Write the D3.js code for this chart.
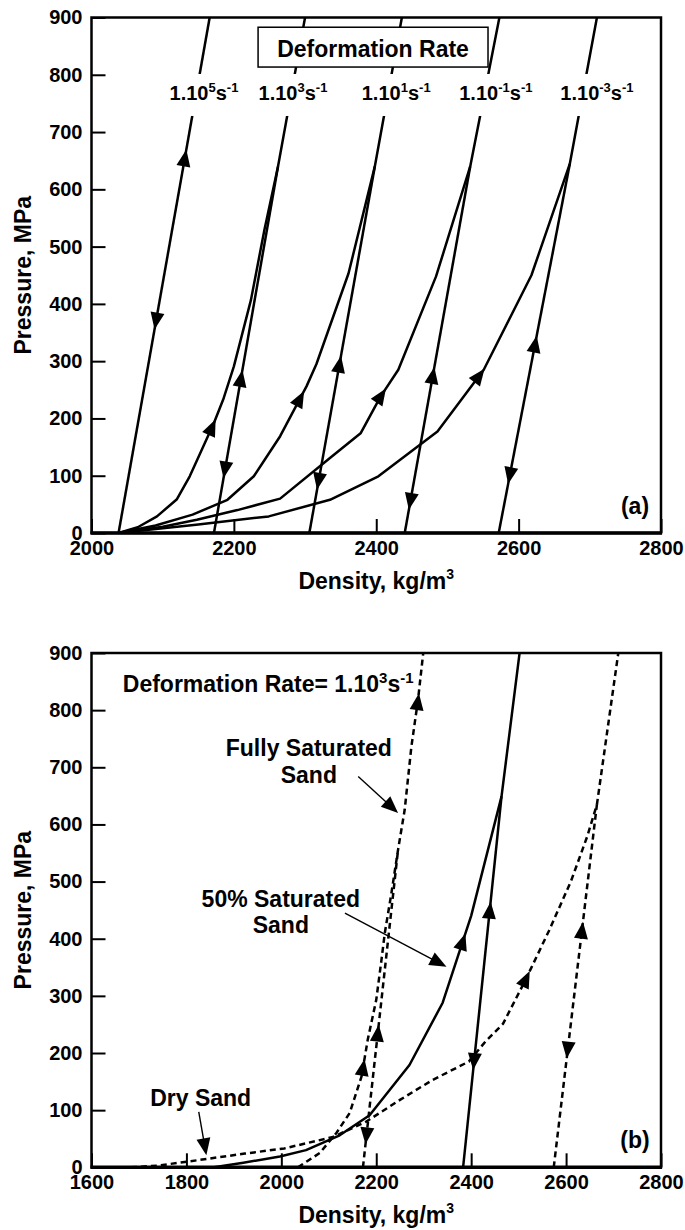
<!DOCTYPE html>
<html><head><meta charset="utf-8">
<script src="https://cdn.jsdelivr.net/npm/d3@7"></script>
<style>
html,body{margin:0;padding:0;background:#fff;}
svg{display:block;font-family:"Liberation Sans",Arial,Helvetica,sans-serif;font-weight:bold;}
</style></head><body>
<svg id="chart" width="685" height="1230"></svg>
<script>
// ---------------- tick labels ----------------
const pressureTicks = [0,100,200,300,400,500,600,700,800,900];
const densityTicksA = [2000,2200,2400,2600,2800];
const densityTicksB = [1600,1800,2000,2200,2400,2600,2800];

// ---------------- panel (a): [density, pressure] ----------------
const rate5 = [[2038,0],[2166,900]];
const rate3Load = [[2038,0],[2065,10],[2092,29],[2120,59],[2138,99],[2157,151],[2172,192],[2185,233],[2200,291],[2212,349],[2224,407],[2243,530],[2262,640],[2300,900]];
const rate3Unload = [[2172,0],[2262,640]];
const rate1Load = [[2038,0],[2090,13],[2142,32],[2191,58],[2228,99],[2265,169],[2302,256],[2316,295],[2361,453],[2398,640],[2436,900]];
const rate1Unload = [[2306,0],[2398,640]];
const rateM1Load = [[2038,0],[2100,11],[2148,23],[2205,40],[2265,60],[2338,134],[2378,174],[2406,238],[2431,285],[2484,448],[2532,640],[2573,900]];
const rateM1Unload = [[2440,0],[2532,640]];
const rateM3Load = [[2038,0],[2150,15],[2249,29],[2335,58],[2403,99],[2486,177],[2551,285],[2618,450],[2672,645],[2710,900]];
const rateM3Unload = [[2572,0],[2672,645]];

const rateExponents = ["5","3","1","-1","-3"];
const rateLabelX = [2158,2283,2428,2568,2710];
const rateLabelP = 756;

// arrows: [series, pressure at arrow centre, direction]
const arrowsA = [
  [rate5,655,"up"],[rate5,370,"down"],
  [rate3Load,185,"up"],[rate3Unload,110,"down"],[rate3Unload,270,"up"],
  [rate1Load,235,"up"],[rate1Unload,90,"down"],[rate1Unload,295,"up"],
  [rateM1Load,240,"up"],[rateM1Unload,55,"down"],[rateM1Unload,275,"up"],
  [rateM3Load,275,"up"],[rateM3Unload,100,"down"],[rateM3Unload,330,"up"]
];

// ---------------- panel (b) ----------------
const dryLoad = [[1683,0],[1740,3],[1803,10],[1923,24],[2006,33],[2109,53],[2179,80],[2250,118],[2319,153],[2395,185],[2430,220],[2467,251],[2514,327],[2564,414],[2610,500],[2645,580],[2665,635],[2710,900]];
const dryUnload = [[2574,0],[2665,635]];
const halfLoad = [[1858,0],[1920,8],[1997,19],[2052,30],[2123,56],[2186,91],[2270,179],[2340,288],[2400,440],[2464,649],[2502,900]];
const halfUnload = [[2383,0],[2464,649]];
const fullLoad = [[2035,0],[2081,25],[2116,60],[2144,95],[2169,159],[2182,223],[2200,293],[2211,363],[2218,410],[2232,480],[2246,556],[2260,626],[2274,736],[2288,818],[2299,900]];
const fullUnload = [[2172,0],[2246,556]];

const arrowsB = [
  [dryLoad,330,"up"],[dryUnload,205,"down"],[dryUnload,415,"up"],
  [halfLoad,395,"up"],[halfUnload,185,"down"],[halfUnload,450,"up"],
  [fullLoad,175,"up"],[fullLoad,815,"up"],[fullUnload,55,"down"],[fullUnload,235,"up"]
];

// annotations panel (b): text lines [text, density, pressure(baseline)]
const annotTexts = [
  ["Fully Saturated",2058,720],["Sand",2058,673],
  ["50% Saturated",1999,456],["Sand",1999,410],
  ["Dry Sand",1830,107]
];
// pointer arrows [fromDensity, fromP, toDensity, toP]
const pointers = [
  [2162,684,2246,620],
  [2134,445,2348,351],
  [1826,97,1842,21]
];

// ---------------- drawing ----------------
const svg = d3.select("#chart");
const FONT_TICK = 20, FONT_LABEL = 23;

function arrowHead(g, p, u, L, hw) {
  const tip = [p[0]+u[0]*L/2, p[1]+u[1]*L/2];
  const b = [p[0]-u[0]*L/2, p[1]-u[1]*L/2];
  const n = [-u[1], u[0]];
  g.append("path")
    .attr("d", `M${tip[0]},${tip[1]}L${b[0]+n[0]*hw},${b[1]+n[1]*hw}L${b[0]-n[0]*hw},${b[1]-n[1]*hw}Z`)
    .attr("fill","#000");
}

function seriesArrow(g, x, y, data, P, dir) {
  for (let i=0;i<data.length-1;i++){
    const a=data[i], b=data[i+1];
    if (P>=a[1] && P<=b[1]) {
      const t=(P-a[1])/(b[1]-a[1]);
      const d=a[0]+t*(b[0]-a[0]);
      const ax=x(a[0]), ay=y(a[1]), bx=x(b[0]), by=y(b[1]);
      let ux=bx-ax, uy=by-ay; const len=Math.hypot(ux,uy); ux/=len; uy/=len;
      if (dir==="down"){ux=-ux;uy=-uy;}
      arrowHead(g,[x(d),y(P)],[ux,uy],17,7);
      return;
    }
  }
}

function rateText(sel, base, sup1, mid, sup2, fs, sfs) {
  sel.append("tspan").text(base);
  sel.append("tspan").attr("font-size",sfs).attr("dy",-fs*0.4).text(sup1);
  sel.append("tspan").attr("font-size",fs).attr("dy",fs*0.4).text(mid);
  if (sup2) sel.append("tspan").attr("font-size",sfs).attr("dy",-fs*0.4).text(sup2);
}

function panel(cfg) {
  const x = d3.scaleLinear().domain(cfg.xDomain).range([91.5,661]);
  const y = d3.scaleLinear().domain([0,900]).range([cfg.bottom,cfg.top]);
  const g = svg.append("g");

  const clipId = "clip"+cfg.id;
  svg.append("clipPath").attr("id",clipId).append("rect")
    .attr("x",x.range()[0]).attr("y",cfg.top).attr("width",x.range()[1]-x.range()[0]).attr("height",cfg.bottom-cfg.top);

  const ya = g.append("g").attr("transform",`translate(${x.range()[0]},0)`)
    .call(d3.axisLeft(y).tickValues(pressureTicks).tickSize(-14).tickPadding(9));
  const xa = g.append("g").attr("transform",`translate(0,${cfg.bottom})`)
    .call(d3.axisBottom(x).tickValues(cfg.xTicks).tickSize(-14).tickPadding(7.5).tickFormat(d3.format("d")));
  [ya,xa].forEach(a=>{
    a.select(".domain").remove();
    a.attr("font-size",FONT_TICK).attr("font-family",null);
    a.selectAll("line").attr("stroke-width",2);
    a.selectAll("text").attr("fill","#000");
  });

  const line = d3.line().x(d=>x(d[0])).y(d=>y(d[1]));
  const cg = g.append("g").attr("clip-path",`url(#${clipId})`);
  cfg.series.forEach(s=>{
    cg.append("path").datum(s.data).attr("d",line)
      .attr("fill","none").attr("stroke","#000")
      .attr("stroke-width", 2.5)
      .attr("stroke-linejoin","round")
      .attr("stroke-dasharray", s.dash?"6,4":null);
  });
  cfg.arrows.forEach(a=>seriesArrow(g,x,y,a[0],a[1],a[2]));

  g.append("rect").attr("x",x.range()[0]).attr("y",cfg.top)
    .attr("width",x.range()[1]-x.range()[0]).attr("height",cfg.bottom-cfg.top)
    .attr("fill","none").attr("stroke","#000").attr("stroke-width",2.5);
  g.append("line").attr("x1",x.range()[0]-1).attr("x2",x.range()[1]+1)
    .attr("y1",cfg.bottom).attr("y2",cfg.bottom).attr("stroke","#000").attr("stroke-width",3.5);

  g.append("text").attr("transform",`translate(31,${(cfg.top+cfg.bottom)/2}) rotate(-90)`)
    .attr("text-anchor","middle").attr("font-size",FONT_LABEL).text("Pressure, MPa");
  const xt = g.append("text").attr("x",(x.range()[0]+x.range()[1])/2).attr("y",cfg.bottom+56)
    .attr("text-anchor","middle").attr("font-size",FONT_LABEL);
  xt.append("tspan").text("Density, kg/m");
  xt.append("tspan").attr("font-size",14).attr("dy",-10).text("3");

  g.append("text").attr("x",635).attr("y",cfg.bottom-19).attr("text-anchor","middle")
    .attr("font-size",FONT_LABEL).text(cfg.tag);
  return {g,x,y};
}

// ---- panel (a)
const A = panel({
  id:"a", top:17.5, bottom:533, xDomain:[2000,2800], xTicks:densityTicksA, tag:"(a)",
  series:[rate5,rate3Load,rate3Unload,rate1Load,rate1Unload,rateM1Load,rateM1Unload,rateM3Load,rateM3Unload].map(d=>({data:d,dash:false})),
  arrows:arrowsA
});
rateExponents.forEach((e,i)=>{
  const t = A.g.append("text").attr("x",A.x(rateLabelX[i])).attr("y",A.y(rateLabelP))
    .attr("text-anchor","middle").attr("font-size",20);
  rateText(t,"1.10",e,"s","-1",20,13);
  const bb = t.node().getBBox();
  A.g.insert("rect", function(){return t.node();})
    .attr("x",bb.x-3).attr("width",bb.width+6)
    .attr("y",A.y(rateLabelP)-26).attr("height",42).attr("fill","#fff");
});
const boxX0 = 2234, boxX1 = 2557, boxP0 = 883, boxP1 = 813.5;
A.g.append("rect").attr("x",A.x(boxX0)).attr("y",A.y(boxP0))
  .attr("width",A.x(boxX1)-A.x(boxX0)).attr("height",A.y(boxP1)-A.y(boxP0))
  .attr("fill","#fff").attr("stroke","#000").attr("stroke-width",1.5);
A.g.append("text").attr("x",A.x((boxX0+boxX1)/2)).attr("y",A.y(831.5))
  .attr("text-anchor","middle").attr("font-size",FONT_LABEL).text("Deformation Rate");

// ---- panel (b)
const B = panel({
  id:"b", top:653, bottom:1167.3, xDomain:[1600,2800], xTicks:densityTicksB, tag:"(b)",
  series:[
    {data:dryLoad,dash:true},{data:dryUnload,dash:true},
    {data:halfLoad,dash:false},{data:halfUnload,dash:false},
    {data:fullLoad,dash:true},{data:fullUnload,dash:true}
  ],
  arrows:arrowsB
});
const dr = B.g.append("text").attr("x",B.x(1666)).attr("y",B.y(832)).attr("font-size",FONT_LABEL);
rateText(dr,"Deformation Rate= 1.10","3","s","-1",FONT_LABEL,15);
annotTexts.forEach(a=>{
  B.g.append("text").attr("x",B.x(a[1])).attr("y",B.y(a[2]))
    .attr("text-anchor","middle").attr("font-size",FONT_LABEL).text(a[0]);
});
pointers.forEach(p=>{
  const x0=B.x(p[0]), y0=B.y(p[1]), x1=B.x(p[2]), y1=B.y(p[3]);
  let ux=x1-x0, uy=y1-y0; const len=Math.hypot(ux,uy); ux/=len; uy/=len;
  B.g.append("line").attr("x1",x0).attr("y1",y0).attr("x2",x1-ux*10).attr("y2",y1-uy*10)
    .attr("stroke","#000").attr("stroke-width",1.4);
  arrowHead(B.g,[x1-ux*8.5,y1-uy*8.5],[ux,uy],17,7);
});
</script>
</body></html>
